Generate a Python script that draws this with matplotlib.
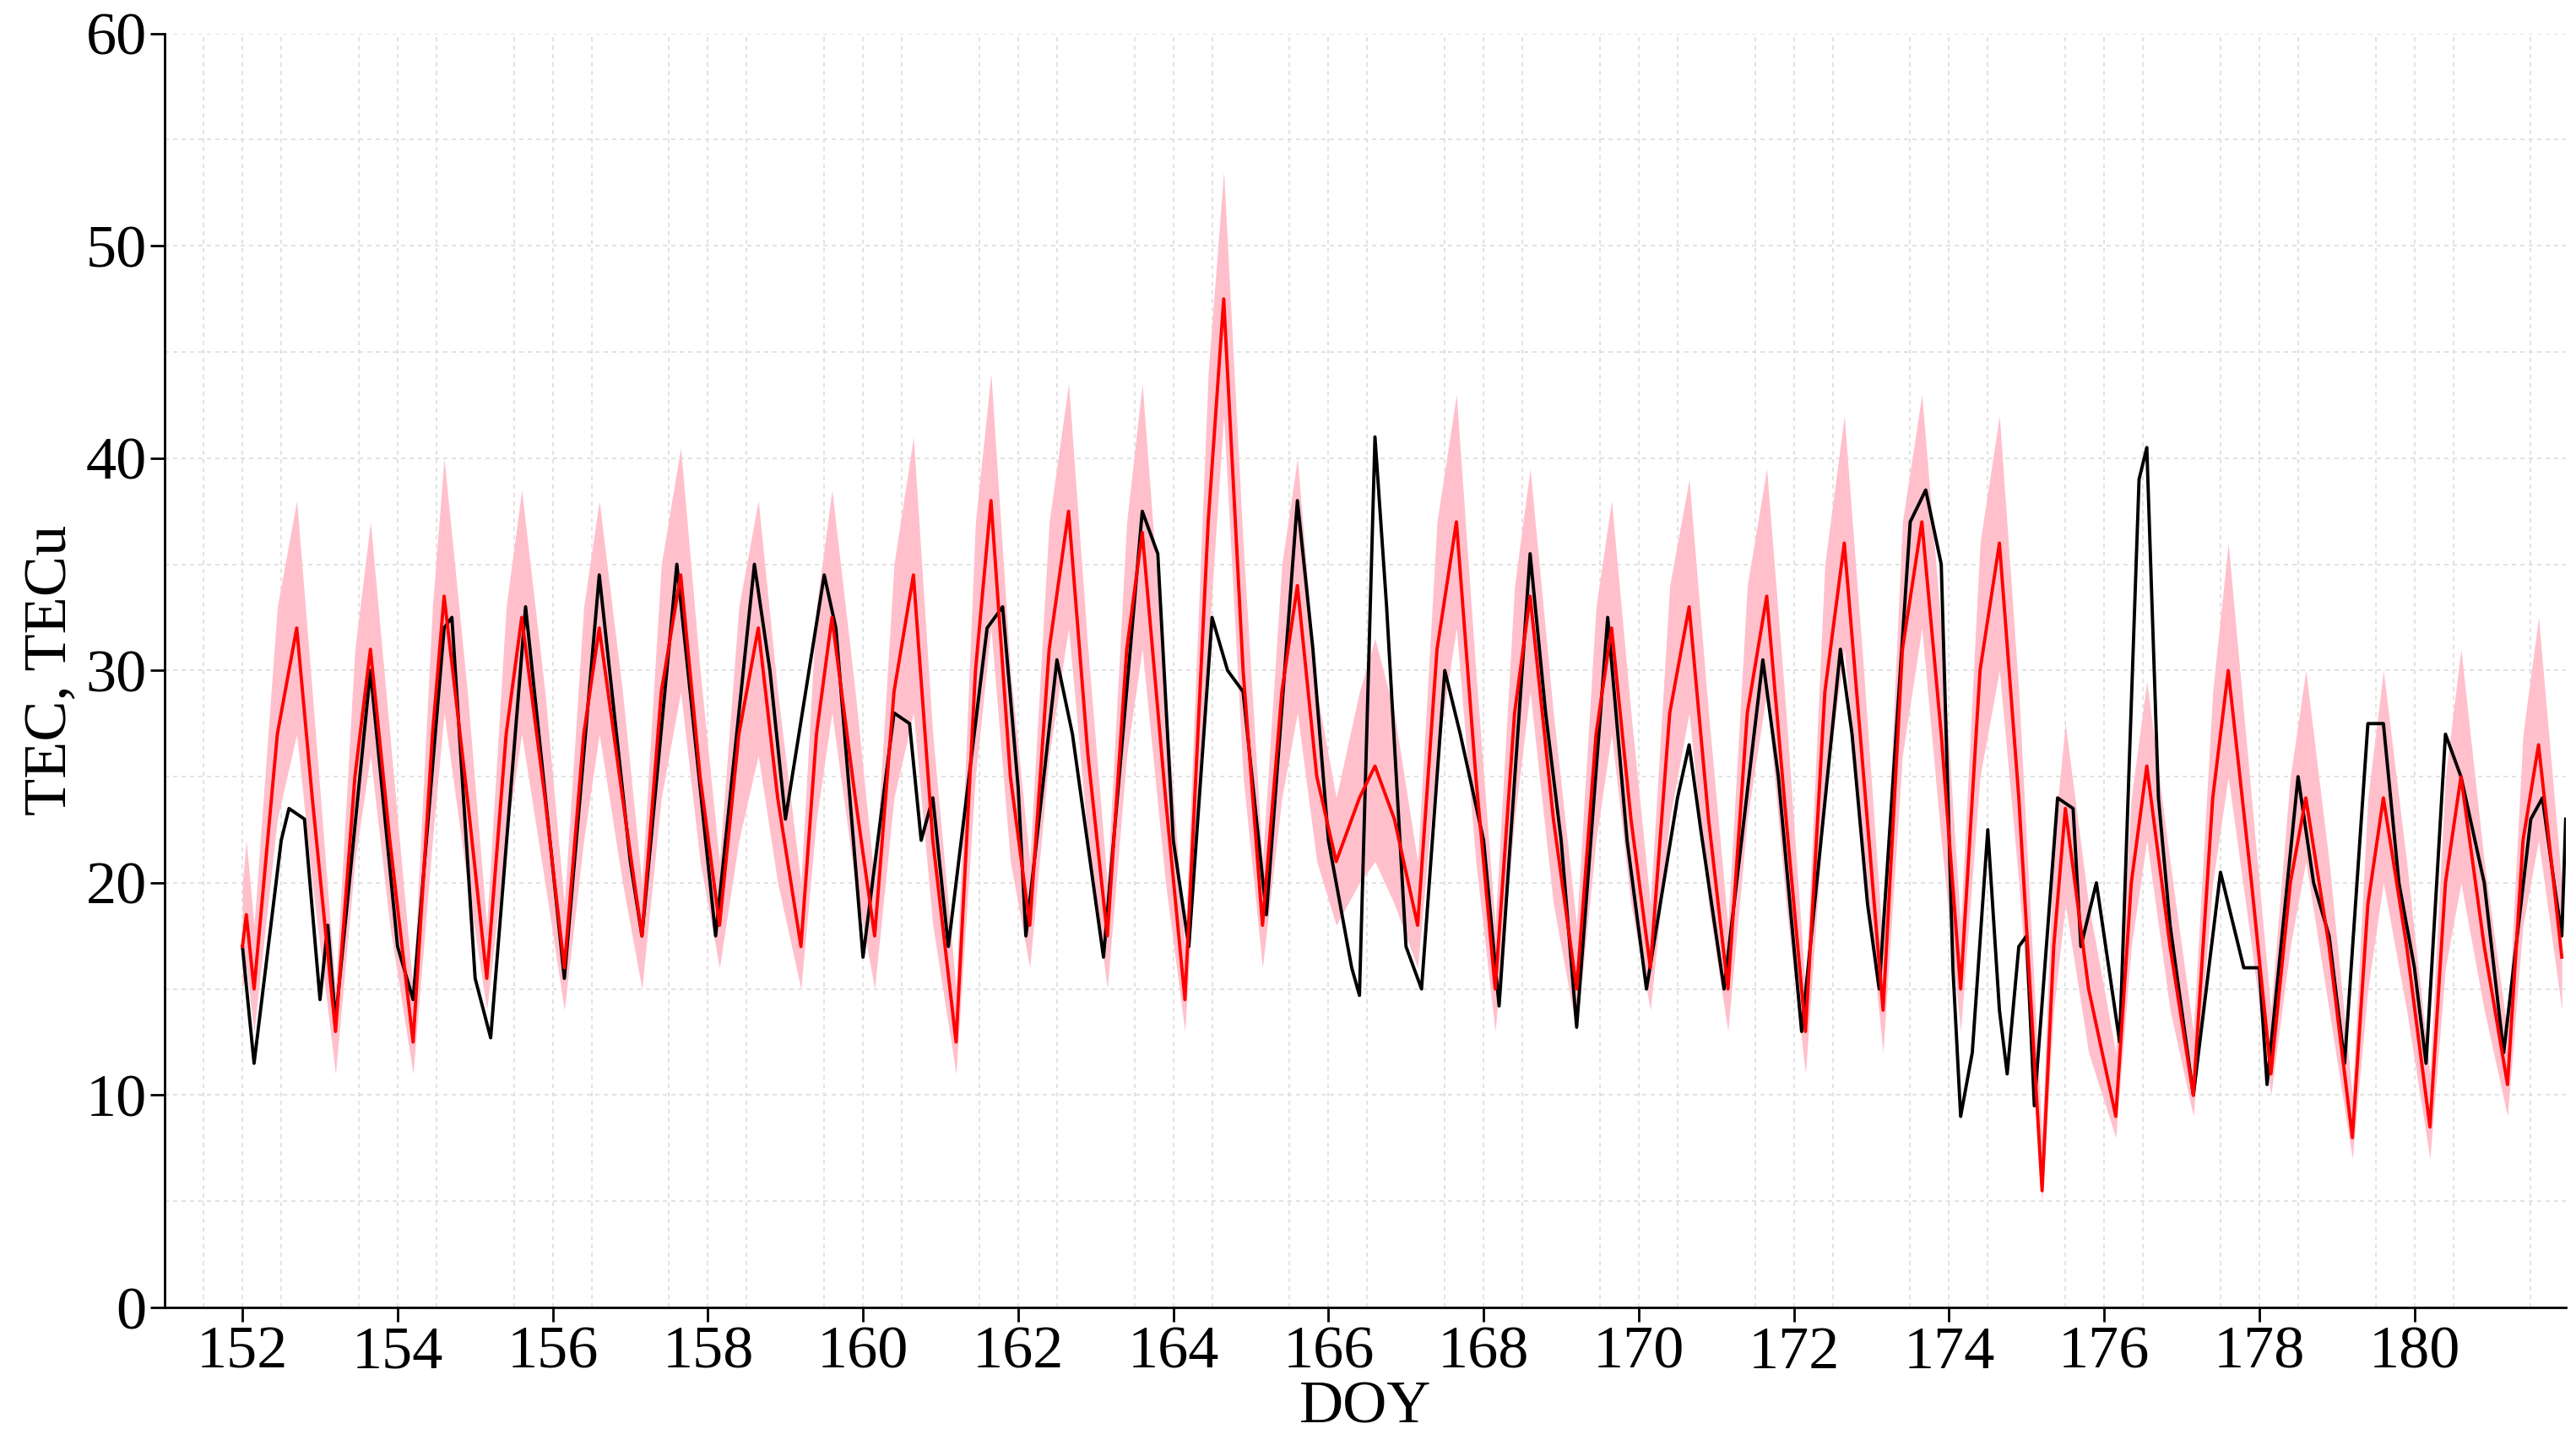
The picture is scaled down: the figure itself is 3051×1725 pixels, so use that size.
import matplotlib
matplotlib.use("Agg")
import matplotlib.pyplot as plt
import numpy as np

# Red (model) key points: day-of-year, TEC
red_t = [152.0,152.05,152.15,152.45,152.7,152.9,153.2,153.45,153.65,153.9,154.2,154.45,154.6,154.9,155.15,155.4,155.6,155.9,156.15,156.4,156.6,156.9,157.15,157.4,157.65,157.9,158.15,158.4,158.65,158.9,159.2,159.4,159.6,159.9,160.15,160.4,160.65,160.9,161.2,161.45,161.65,161.9,162.15,162.4,162.65,162.9,163.15,163.4,163.6,163.9,164.15,164.45,164.65,164.9,165.15,165.4,165.6,165.85,166.1,166.4,166.6,166.85,167.15,167.4,167.65,167.9,168.15,168.4,168.6,168.9,169.2,169.45,169.65,169.9,170.15,170.4,170.65,170.9,171.15,171.4,171.65,171.9,172.15,172.4,172.65,172.9,173.15,173.4,173.65,173.9,174.15,174.4,174.65,174.9,175.2,175.35,175.5,175.8,176.15,176.35,176.55,176.85,177.15,177.4,177.6,177.9,178.15,178.4,178.6,178.9,179.2,179.4,179.6,179.9,180.2,180.4,180.6,180.9,181.2,181.4,181.6,181.9]
red_v = [17,18.5,15,27,32,24,13,25,31,22,12.5,27,33.5,24,15.5,27,32.5,24,16,27,32,24,17.5,29,34.5,25,18,27,32,24,17,27,32.5,24,17.5,29,34.5,22,12.5,30,38,25,18,31,37.5,26,17.5,31,36.5,24,14.5,37,47.5,30,18,29,34,25,21,24,25.5,23,18,31,37,25,15,28,33.5,23,15,27,32,23,16,28,33,23,15,28,33.5,23,13,29,36,25,14,31,37,27,15,30,36,24,5.5,17,23.5,15,9,20,25.5,17,10,24,30,20,11,20,24,17,8,19,24,17,8.5,20,25,17,10.5,22,26.5,16.5]
# Uncertainty band upper / lower at the same key points
band_hi = [20,22,18,33,38,29,15,31,37,27,15,33,40,29,18,33,38.5,29,19,33,38,29,20,35,40.5,30,21,33,38,29,20,33,38.5,29,20,35,41,27,15,37,44,30,21,37,43.5,31,20,37,43.5,29,17,44,53.5,36,21,35,40,29,24,29,31.5,28,21,37,43,30,18,34,39.5,28,18,33,38,28,19,34,39,28,18,34,39.5,28,15,35,42,30,17,37,43,32,18,36,42,29,8,22,27.5,19,12,24,29.5,21,13,29,36,24,14,25,30,21,10,24,30,21,11,25,31,21,13,27,32.5,20]
band_lo = [15,16,13,23,27,20,11,21,26,18,11,22,28,20,14,22,27,20,14,22,27,20,15,24,29,21,16,22,26,20,15,23,28,20,15,24,28,18,11,25,32,21,16,26,32,22,15,26,31,20,13,31,42,25,16,24,28,21,18,20,21,19,16,26,32,21,13,23,29,19,13,22,27,19,14,23,28,19,13,23,29,19,11,24,31,21,12,26,32,22,13,25,30,20,5,14,19,12,8,17,22,14,9,20,25,17,10,17,21,14,7,15,20,14,7,16,20,14,9,18,22,14]

# Black (observed) key points
blk_t = [152.0,152.15,152.5,152.6,152.8,153.0,153.1,153.2,153.65,154.0,154.2,154.6,154.7,155.0,155.2,155.65,156.15,156.6,157.0,157.15,157.6,158.1,158.6,158.8,159.0,159.5,159.65,160.0,160.4,160.6,160.75,160.9,161.1,161.6,161.8,162.0,162.1,162.5,162.7,163.1,163.6,163.8,164.0,164.2,164.5,164.7,164.9,165.2,165.6,165.8,166.0,166.3,166.4,166.6,166.75,167.0,167.2,167.5,167.7,168.0,168.2,168.6,168.8,169.0,169.2,169.6,169.85,170.1,170.5,170.65,170.8,171.1,171.6,171.8,172.1,172.6,172.75,172.95,173.1,173.5,173.7,173.9,174.05,174.15,174.3,174.5,174.65,174.75,174.9,175.0,175.1,175.4,175.6,175.7,175.9,176.2,176.45,176.55,176.7,176.85,177.0,177.15,177.5,177.8,178.0,178.1,178.5,178.7,178.9,179.1,179.4,179.6,179.8,180.0,180.15,180.4,180.6,180.9,181.15,181.5,181.65,181.8,181.9,181.95]
blk_v = [17,11.5,22,23.5,23,14.5,18,13.5,30,17,14.5,32,32.5,15.5,12.7,33,15.5,34.5,21,17.5,35,17.5,35,30,23,34.5,32,16.5,28,27.5,22,24,17,32,33,24.5,17.5,30.5,27,16.5,37.5,35.5,22,17,32.5,30,29,18.5,38,31,22,16,14.7,41,33,17,15,30,27,22,14.2,35.5,28,22,13.2,32.5,22,15,24,26.5,22.5,15,30.5,25,13,31,27,19,15,37,38.5,35,16,9,12,22.5,14,11,17,17.5,9.5,24,23.5,17,20,12.5,39,40.5,24,18,14,10,20.5,16,16,10.5,25,20,17.5,11.5,27.5,27.5,20,16,11.5,27,25,20,12,23,24,20,17.5,23]

xticks = list(range(152, 182, 2))
yticks = list(range(0, 61, 10))

plt.rcParams['font.family'] = ['Liberation Serif', 'DejaVu Serif']
fig = plt.figure(figsize=(30.51, 17.25), dpi=100)
ax = fig.add_axes([0.064, 0.102, 0.932, 0.875])

ax.fill_between(red_t, band_lo, band_hi, color='#ffc0cb', lw=0, zorder=1)
ax.plot(blk_t, blk_v, color='black', lw=2.8, zorder=2)
ax.plot(red_t, red_v, color='red', lw=2.8, zorder=3)

ax.set_xlim(151.0, 181.95)
ax.set_ylim(0, 60)
ax.set_xticks(xticks)
ax.set_yticks(yticks)
ax.set_xticks(np.arange(151.5, 182, 1), minor=True)
ax.set_yticks(np.arange(5, 60, 10), minor=True)
ax.grid(True, which='both', color='#dddddd', ls=(0, (3, 3)), lw=1.2)
ax.set_axisbelow(True)
for s in ['top', 'right']:
    ax.spines[s].set_visible(False)
for s in ['left', 'bottom']:
    ax.spines[s].set_linewidth(2)
ax.tick_params(which='major', labelsize=52, width=2, length=12, direction='out')
ax.tick_params(which='minor', length=0)
ax.set_xlabel('DOY', fontsize=52, labelpad=0)
ax.set_ylabel('TEC, TECu', fontsize=52, labelpad=6)

fig.savefig('out.png', dpi=100)
